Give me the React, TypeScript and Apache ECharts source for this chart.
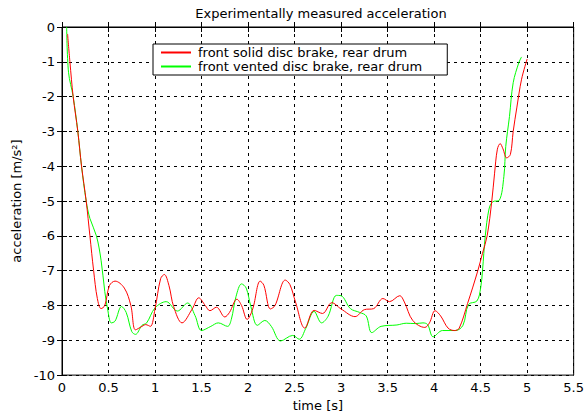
import React, { useEffect, useRef } from "react";
import * as echarts from "echarts";

const titleText = "Experimentally measured acceleration";
const xTicks = [0, 0.5, 1, 1.5, 2, 2.5, 3, 3.5, 4, 4.5, 5, 5.5];
const yTicks = [0, -1, -2, -3, -4, -5, -6, -7, -8, -9, -10];
const seriesNames = ["front solid disc brake, rear drum", "front vented disc brake, rear drum"];

const solidDisc: [number, number][] = [
  [0.06, -0.2], [0.085, -1.0], [0.12, -2.0], [0.17, -3.0], [0.21, -4.0], [0.26, -5.0], [0.3, -6.0],
  [0.34, -7.0], [0.38, -7.8], [0.42, -8.09], [0.46, -8.0], [0.51, -7.43], [0.57, -7.3], [0.67, -7.5],
  [0.74, -8.0], [0.79, -8.7], [0.86, -8.6], [0.9, -8.55], [0.95, -8.6], [1.0, -8.1], [1.06, -7.23],
  [1.1, -7.11], [1.15, -7.43], [1.2, -8.03], [1.29, -8.5], [1.4, -8.1], [1.47, -7.78], [1.54, -8.0],
  [1.59, -8.15], [1.66, -8.05], [1.75, -8.33], [1.8, -8.2], [1.88, -7.82], [1.93, -8.0], [1.99, -8.4],
  [2.05, -8.1], [2.13, -7.3], [2.17, -7.42], [2.24, -8.1], [2.29, -8.0], [2.4, -7.27], [2.45, -7.4],
  [2.51, -7.9], [2.61, -8.65], [2.71, -8.14], [2.8, -8.23], [2.9, -7.92], [3.0, -8.1], [3.15, -8.32],
  [3.25, -8.12], [3.35, -8.09], [3.45, -7.8], [3.52, -7.89], [3.63, -7.72], [3.68, -7.9], [3.77, -8.43],
  [3.9, -8.63], [3.95, -8.5], [4.01, -8.15], [4.07, -8.3], [4.15, -8.65], [4.22, -8.72], [4.27, -8.65],
  [4.36, -7.94], [4.47, -7.0], [4.52, -6.5], [4.57, -6.0], [4.62, -5.0], [4.65, -4.2], [4.68, -3.51],
  [4.71, -3.35], [4.74, -3.5], [4.78, -3.76], [4.82, -3.66], [4.85, -3.0], [4.89, -2.3], [4.94, -1.5],
  [5.0, -0.92],
];

const ventedDisc: [number, number][] = [
  [0.05, 0.0], [0.07, -1.3], [0.12, -2.0], [0.17, -3.0], [0.21, -4.0], [0.26, -5.0], [0.3, -5.5],
  [0.37, -6.0], [0.42, -6.7], [0.46, -7.6], [0.49, -8.1], [0.53, -8.5], [0.57, -8.45], [0.64, -8.03],
  [0.69, -8.2], [0.75, -8.75], [0.79, -8.83], [0.86, -8.57], [0.91, -8.5], [1.0, -8.07], [1.12, -7.89],
  [1.24, -8.16], [1.35, -7.93], [1.43, -8.29], [1.5, -8.72], [1.6, -8.6], [1.68, -8.5], [1.78, -8.6],
  [1.82, -8.4], [1.87, -7.75], [1.93, -7.38], [1.98, -7.5], [2.03, -8.03], [2.1, -8.57], [2.18, -8.43],
  [2.25, -8.6], [2.35, -9.02], [2.48, -8.86], [2.55, -8.97], [2.62, -8.66], [2.71, -8.17], [2.79, -8.5],
  [2.86, -8.31], [2.95, -7.71], [3.0, -7.72], [3.1, -8.09], [3.2, -8.2], [3.27, -8.3], [3.33, -8.78],
  [3.43, -8.6], [3.6, -8.56], [3.7, -8.51], [3.8, -8.52], [3.88, -8.5], [3.93, -8.55], [3.99, -8.9],
  [4.09, -8.72], [4.23, -8.72], [4.31, -8.57], [4.37, -7.97], [4.46, -7.87], [4.5, -7.5], [4.52, -7.0],
  [4.55, -6.0], [4.59, -5.23], [4.63, -5.02], [4.7, -4.98], [4.75, -4.29], [4.77, -3.43], [4.81, -2.57],
  [4.85, -1.6], [4.91, -1.03], [4.94, -0.86],
];

const FONT = "'DejaVu Sans', Verdana, sans-serif";

export default function App() {
  const ref = useRef<HTMLDivElement>(null);
  useEffect(() => {
    if (!ref.current) return;
    const chart = echarts.init(ref.current, undefined, { renderer: "svg" });
    const axisCommon = {
      axisLine: { show: true, lineStyle: { color: "#000", width: 1 } },
      axisTick: { show: true, inside: true, length: 5, lineStyle: { color: "#000" } },
    };
    chart.setOption({
      animation: false,
      backgroundColor: "#fff",
      title: {
        text: titleText,
        left: 316,
        textAlign: "center",
        top: 2,
        textStyle: { fontFamily: FONT, fontSize: 13, fontWeight: "normal", color: "#000" },
      },
      legend: {
        orient: "vertical",
        left: 153,
        top: 44,
        data: seriesNames,
        backgroundColor: "#fff",
        borderColor: "#000",
        borderWidth: 1,
        borderRadius: 0,
        padding: [2, 25, 2, 8],
        itemGap: 1,
        itemWidth: 30,
        itemHeight: 2,
        icon: "rect",
        textStyle: { fontFamily: FONT, fontSize: 13, color: "#000", padding: [0, 0, 0, 2] },
      },
      grid: { left: 62, top: 27, right: 8, bottom: 40, show: true, borderColor: "#000", borderWidth: 1 },
      xAxis: [
        {
          type: "value",
          min: 0,
          max: 5.5,
          interval: 0.5,
          name: "time [s]",
          nameLocation: "middle",
          nameGap: 22,
          nameTextStyle: { fontFamily: FONT, fontSize: 13, color: "#000" },
          ...axisCommon,
          axisLabel: {
            fontFamily: FONT,
            fontSize: 13,
            color: "#000",
            margin: 6,
            formatter: (v: number) => String(xTicks.find((t) => Math.abs(t - v) < 1e-9) ?? v),
          },
          splitLine: { show: true, lineStyle: { color: "#000", type: [3, 4], width: 1 } },
        },
        {
          type: "value",
          position: "top",
          min: 0,
          max: 5.5,
          interval: 0.5,
          ...axisCommon,
          axisLabel: { show: false },
          splitLine: { show: false },
        },
      ],
      yAxis: [
        {
          type: "value",
          min: -10,
          max: 0,
          interval: 1,
          name: "acceleration [m/s²]",
          nameLocation: "middle",
          nameGap: 36,
          nameTextStyle: { fontFamily: FONT, fontSize: 13, color: "#000" },
          ...axisCommon,
          axisLabel: {
            fontFamily: FONT,
            fontSize: 13,
            color: "#000",
            margin: 7,
            formatter: (v: number) => String(yTicks.find((t) => Math.abs(t - v) < 1e-9) ?? v),
          },
          splitLine: { show: true, lineStyle: { color: "#000", type: [3, 4], width: 1 } },
        },
        {
          type: "value",
          position: "right",
          min: -10,
          max: 0,
          interval: 1,
          ...axisCommon,
          axisLabel: { show: false },
          splitLine: { show: false },
        },
      ],
      series: [
        {
          name: seriesNames[0],
          type: "line",
          data: solidDisc,
          smooth: 0.35,
          showSymbol: false,
          lineStyle: { color: "#ff0000", width: 1 },
          itemStyle: { color: "#ff0000" },
          z: 3,
        },
        {
          name: seriesNames[1],
          type: "line",
          data: ventedDisc,
          smooth: 0.35,
          showSymbol: false,
          lineStyle: { color: "#00ff00", width: 1 },
          itemStyle: { color: "#00ff00" },
          z: 2,
        },
      ],
    });
    return () => chart.dispose();
  }, []);
  return <div ref={ref} style={{ position: "fixed", left: 0, top: 0, width: 587, height: 417 }} />;
}
